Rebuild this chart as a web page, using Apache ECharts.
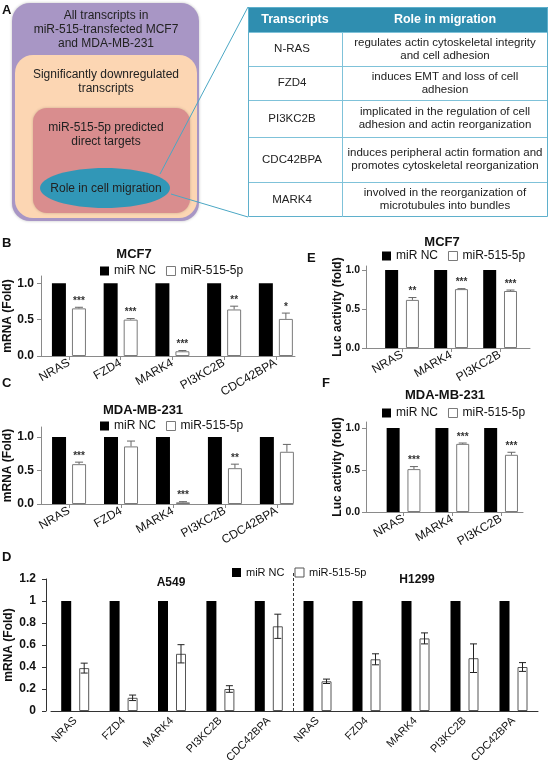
<!DOCTYPE html>
<html><head><meta charset="utf-8">
<script src="https://cdn.jsdelivr.net/npm/echarts@6/dist/echarts.min.js"></script>
<style>html,body{margin:0;padding:0;background:#fff}#c{width:549px;height:766px}</style>
</head><body><div id="c"></div>
<script>
// ---------- data ----------
const genesMrna = ['NRAS','FZD4','MARK4','PI3KC2B','CDC42BPA'];
const genesLuc = ['NRAS','MARK4','PI3KC2B'];
const legendNames = ['miR NC','miR-515-5p'];

const ctrlMcf7Mrna = [1,1,1,1,1];
const mcf7Mrna = [0.655,0.50,0.065,0.64,0.51];
const mcf7MrnaErr = [0.015,0.015,0.01,0.045,0.08];
const mcf7MrnaSig = ['***','***','***','**','*'];

const ctrlMdaMrna = [1,1,1,1,1];
const mdaMrna = [0.595,0.86,0.025,0.535,0.78];
const mdaMrnaErr = [0.03,0.08,0.01,0.06,0.11];
const mdaMrnaSig = ['***','','***','**',''];

const ctrlMcf7Luc = [1,1,1];
const mcf7Luc = [0.616,0.754,0.73];
const mcf7LucErr = [0.03,0.006,0.012];
const mcf7LucSig = ['**','***','***'];

const ctrlMdaLuc = [1,1,1];
const mdaLuc = [0.51,0.81,0.68];
const mdaLucErr = [0.03,0.01,0.03];
const mdaLucSig = ['***','***','***'];

const ctrlA549 = [1,1,1,1,1];
const a549 = [0.39,0.12,0.52,0.20,0.77];
const a549Err = [0.045,0.025,0.083,0.03,0.11];
const ctrlH1299 = [1,1,1,1,1];
const h1299 = [0.27,0.47,0.66,0.48,0.40];
const h1299Err = [0.02,0.05,0.05,0.13,0.04];

const yTicksFold = [0, 0.5, 1];
const yTicksD = [0, 0.2, 0.4, 0.6, 0.8, 1, 1.2];

const boxTexts = [
  'All transcripts in\nmiR-515-transfected MCF7\nand MDA-MB-231',
  'Significantly downregulated\ntranscripts',
  'miR-515-5p predicted\ndirect targets',
  'Role in cell migration'
];
const tableHead = ['Transcripts','Role in migration'];
const tableGenes = ['N-RAS','FZD4','PI3KC2B','CDC42BPA','MARK4'];
const tableRoles = [
  'regulates actin cytoskeletal integrity\nand cell adhesion',
  'induces EMT and loss of cell\nadhesion',
  'implicated in the regulation of cell\nadhesion and actin reorganization',
  'induces peripheral actin formation and\npromotes cytoskeletal reorganization',
  'involved in the reorganization of\nmicrotubules into bundles'
];

// ---------- helpers ----------
const FF = 'Liberation Sans, Arial, sans-serif';
const chart = echarts.init(document.getElementById('c'));

const grids = [], xAxes = [], yAxes = [], series = [], legends = [], titles = [];

function errSeries(idx, vals, errs, sigs, offset, both, color, cap) {
  return {
    type: 'custom', name: 'err' + idx, xAxisIndex: idx, yAxisIndex: idx, z: 5,
    silent: true,
    data: vals.map((v, i) => [i, v, errs[i]]),
    encode: { x: 0, y: 1 },
    renderItem: function (params, api) {
      const i = api.value(0), v = api.value(1), e = api.value(2);
      const pTop = api.coord([i, v + e]);
      const pBot = api.coord([i, both ? v - e : v]);
      const x = pTop[0] + offset;
      const st = { stroke: color, lineWidth: 1 };
      const ch = [
        { type: 'line', shape: { x1: x, y1: pTop[1], x2: x, y2: pBot[1] }, style: st },
        { type: 'line', shape: { x1: x - cap, y1: pTop[1], x2: x + cap, y2: pTop[1] }, style: st }
      ];
      if (both) ch.push({ type: 'line', shape: { x1: x - cap, y1: pBot[1], x2: x + cap, y2: pBot[1] }, style: st });
      const s = sigs ? sigs[params.dataIndex] : '';
      if (s) ch.push({ type: 'text', x: x, y: pTop[1] - 1,
        style: { text: s, fill: '#333', font: 'bold 10px ' + FF, align: 'center', verticalAlign: 'bottom' } });
      return { type: 'group', children: ch };
    }
  };
}

function smallPanel(cfg) {
  const idx = grids.length;
  grids.push(cfg.grid);
  const ticks = cfg.genes.map((g, i) => i);
  xAxes.push({
    gridIndex: idx, type: 'value', min: cfg.xmin, max: cfg.xmax,
    splitLine: { show: false },
    axisLine: { show: true, onZero: false, lineStyle: { color: '#8a8a8a' } },
    axisTick: { show: true, customValues: ticks, length: 4, lineStyle: { color: '#8a8a8a' } },
    axisLabel: { customValues: ticks, rotate: 30, margin: 6, fontSize: 12, color: '#111', fontFamily: FF,
      formatter: v => cfg.genes[Math.round(v)] }
  });
  yAxes.push({
    gridIndex: idx, type: 'value', min: 0, max: cfg.ymax,
    splitLine: { show: false },
    axisLine: { show: true, onZero: false, lineStyle: { color: '#8a8a8a' } },
    axisTick: { show: true, customValues: yTicksFold, length: 4, lineStyle: { color: '#8a8a8a' } },
    axisLabel: { customValues: yTicksFold, formatter: v => v.toFixed(1), fontWeight: 'bold', fontSize: cfg.labelSize, color: '#111', fontFamily: FF, margin: cfg.labelMargin },
    name: cfg.yname, nameLocation: 'middle', nameGap: cfg.nameGap, nameMoveOverlap: false,
    nameTextStyle: { fontWeight: 'bold', fontSize: 12, color: '#111', fontFamily: FF }
  });
  series.push({
    type: 'bar', name: legendNames[0], xAxisIndex: idx, yAxisIndex: idx,
    barWidth: cfg.barWidth, barGap: cfg.barGap,
    itemStyle: { color: '#000' },
    data: cfg.ctrl.map((v, i) => [i, v])
  });
  series.push({
    type: 'bar', name: legendNames[1], xAxisIndex: idx, yAxisIndex: idx,
    barWidth: cfg.barWidth, barGap: cfg.barGap,
    itemStyle: { color: '#fff', borderColor: '#7a7a7a', borderWidth: 1 },
    data: cfg.vals.map((v, i) => [i, v])
  });
  series.push(errSeries(idx, cfg.vals, cfg.errs, cfg.sigs, cfg.offset, false, '#666', 4));
  titles.push({ text: cfg.title, left: cfg.titleX, top: cfg.titleY, textAlign: 'center', padding: 0,
    textStyle: { fontSize: 13, fontWeight: 'bold', color: '#111', fontFamily: FF } });
  legends.push({ left: cfg.legend[0], top: cfg.legend[1], padding: 0, itemWidth: 9, itemHeight: 9, itemGap: 10,
    selectedMode: false, icon: 'rect',
    textStyle: { fontSize: 12, color: '#111', fontFamily: FF },
    data: [{ name: legendNames[0], itemStyle: { color: '#000' } },
           { name: legendNames[1], itemStyle: { color: '#fff', borderColor: '#7a7a7a', borderWidth: 1 } }] });
}

smallPanel({ grid: { left: 41, top: 276, width: 254, height: 80 }, genes: genesMrna,
  xmin: -0.54, xmax: 4.37, ymax: 1.1, yname: 'mRNA (Fold)', nameGap: 27, labelSize: 12, labelMargin: 7,
  ctrl: ctrlMcf7Mrna, vals: mcf7Mrna, errs: mcf7MrnaErr, sigs: mcf7MrnaSig,
  barWidth: 14, barGap: '43%', offset: 10, title: 'MCF7', titleX: 134, titleY: 248, legend: [100, 265] });
smallPanel({ grid: { left: 41, top: 427, width: 252, height: 77 }, genes: genesMrna,
  xmin: -0.54, xmax: 4.31, ymax: 1.15, yname: 'mRNA (Fold)', nameGap: 27, labelSize: 12, labelMargin: 7,
  ctrl: ctrlMdaMrna, vals: mdaMrna, errs: mdaMrnaErr, sigs: mdaMrnaSig,
  barWidth: 14, barGap: '43%', offset: 10, title: 'MDA-MB-231', titleX: 143, titleY: 404, legend: [100, 420] });
smallPanel({ grid: { left: 366, top: 266, width: 164, height: 82 }, genes: genesLuc,
  xmin: -0.735, xmax: 2.61, ymax: 1.05, yname: 'Luc activity (fold)', nameGap: 22, labelSize: 10.5, labelMargin: 6,
  ctrl: ctrlMcf7Luc, vals: mcf7Luc, errs: mcf7LucErr, sigs: mcf7LucSig,
  barWidth: 13, barGap: '60%', offset: 10.4, title: 'MCF7', titleX: 442, titleY: 236, legend: [382, 250] });
smallPanel({ grid: { left: 366, top: 422, width: 157, height: 90 }, genes: genesLuc,
  xmin: -0.77, xmax: 2.45, ymax: 1.07, yname: 'Luc activity (fold)', nameGap: 22, labelSize: 10.5, labelMargin: 6,
  ctrl: ctrlMdaLuc, vals: mdaLuc, errs: mdaLucErr, sigs: mdaLucSig,
  barWidth: 13, barGap: '60%', offset: 10.4, title: 'MDA-MB-231', titleX: 445, titleY: 389, legend: [382, 407] });

// ---------- panel D ----------
function dPanel(grid, vals, errs, ctrl, showY, title, tx, ty) {
  const idx = grids.length;
  grids.push(grid);
  xAxes.push({ gridIndex: idx, type: 'category', data: genesMrna,
    axisLine: { show: true, lineStyle: { color: '#333' } }, axisTick: { show: false },
    axisLabel: { rotate: 45, fontSize: 11, color: '#111', fontFamily: FF, margin: 8 } });
  yAxes.push({ gridIndex: idx, type: 'value', min: 0, max: 1.2, show: showY, offset: 5,
    splitLine: { show: false },
    axisLine: { show: true, lineStyle: { color: '#333' } },
    axisTick: { show: true, customValues: yTicksD, length: 4, lineStyle: { color: '#333' } },
    axisLabel: { customValues: yTicksD, fontWeight: 'bold', fontSize: 12, color: '#111', fontFamily: FF, margin: 10 },
    name: showY ? 'mRNA (Fold)' : '', nameLocation: 'middle', nameGap: 31, nameMoveOverlap: false,
    nameTextStyle: { fontWeight: 'bold', fontSize: 12, color: '#111', fontFamily: FF } });
  series.push({ type: 'bar', name: legendNames[0], xAxisIndex: idx, yAxisIndex: idx,
    barWidth: 10, barGap: '80%', itemStyle: { color: '#000' }, data: ctrl });
  series.push({ type: 'bar', name: legendNames[1], xAxisIndex: idx, yAxisIndex: idx,
    barWidth: 10, barGap: '80%', itemStyle: { color: '#fff', borderColor: '#555', borderWidth: 1 }, data: vals });
  series.push(errSeries(idx, vals, errs, null, 9, true, '#222', 3.5));
  titles.push({ text: title, left: tx, top: ty, textAlign: 'center', padding: 0,
    textStyle: { fontSize: 12, fontWeight: 'bold', color: '#111', fontFamily: FF } });
}
dPanel({ left: 51, top: 579, width: 242, height: 132 }, a549, a549Err, ctrlA549, true, 'A549', 171, 577);
dPanel({ left: 293, top: 579, width: 245, height: 132 }, h1299, h1299Err, ctrlH1299, false, 'H1299', 417, 574);
legends.push({ left: 232, top: 567, padding: 0, itemWidth: 9, itemHeight: 9, itemGap: 10, selectedMode: false, icon: 'rect',
  textStyle: { fontSize: 11, color: '#111', fontFamily: FF },
  data: [{ name: legendNames[0], itemStyle: { color: '#000' } },
         { name: legendNames[1], itemStyle: { color: '#fff', borderColor: '#555', borderWidth: 1 } }] });

// ---------- panel A + decorations ----------
const graphic = [];
const letter = (t, x, y) => graphic.push({ type: 'text', x: x, y: y,
  style: { text: t, font: 'bold 13px ' + FF, fill: '#111', verticalAlign: 'middle' } });
graphic.push({ type: 'rect', shape: { x: 12, y: 3, width: 187, height: 218, r: 18 }, style: { fill: '#a896c5', shadowBlur: 3, shadowColor: 'rgba(0,0,0,0.25)' } });
graphic.push({ type: 'rect', shape: { x: 15, y: 55, width: 182, height: 163, r: 18 }, style: { fill: '#fcd6b3' } });
graphic.push({ type: 'rect', shape: { x: 33, y: 108, width: 157, height: 105, r: 14 }, style: { fill: '#d98d8e', shadowBlur: 3, shadowColor: 'rgba(0,0,0,0.2)' } });
graphic.push({ type: 'ellipse', shape: { cx: 105, cy: 188, rx: 65, ry: 20 }, style: { fill: '#3197b7' } });
const boxY = [30, 82, 135, 189];
boxTexts.forEach((t, i) => graphic.push({ type: 'text', x: 106, y: boxY[i],
  style: { text: t, font: '12px ' + FF, fill: '#222', align: 'center', verticalAlign: 'middle', lineHeight: 14 } }));
// connector lines
graphic.push({ type: 'line', shape: { x1: 160, y1: 174, x2: 248, y2: 7 }, style: { stroke: '#4ba7c4', lineWidth: 1 } });
graphic.push({ type: 'line', shape: { x1: 171, y1: 194, x2: 248, y2: 217 }, style: { stroke: '#4ba7c4', lineWidth: 1 } });
// table
const tX0 = 248, tX1 = 548, tXm = 342;
const rowY = [7, 32, 66, 100, 137, 182, 217];
graphic.push({ type: 'rect', shape: { x: tX0, y: rowY[0], width: tX1 - tX0, height: rowY[1] - rowY[0] }, style: { fill: '#2f8eb0' } });
for (let r = 1; r < rowY.length - 1; r++) {
  graphic.push({ type: 'line', shape: { x1: tX0, y1: rowY[r] + 0.5, x2: tX1, y2: rowY[r] + 0.5 }, style: { stroke: '#7fc2d9', lineWidth: 1 } });
}
graphic.push({ type: 'rect', shape: { x: tX0 + 0.5, y: rowY[0] + 0.5, width: tX1 - tX0 - 1, height: rowY[6] - rowY[0] - 1 }, style: { fill: null, stroke: '#5fb0cc', lineWidth: 1 } });
graphic.push({ type: 'line', shape: { x1: tXm + 0.5, y1: rowY[1], x2: tXm + 0.5, y2: rowY[6] }, style: { stroke: '#7fc2d9', lineWidth: 1 } });
graphic.push({ type: 'text', x: (tX0 + tXm) / 2, y: (rowY[0] + rowY[1]) / 2,
  style: { text: tableHead[0], font: 'bold 12.5px ' + FF, fill: '#fff', align: 'center', verticalAlign: 'middle' } });
graphic.push({ type: 'text', x: (tXm + tX1) / 2, y: (rowY[0] + rowY[1]) / 2,
  style: { text: tableHead[1], font: 'bold 12.5px ' + FF, fill: '#fff', align: 'center', verticalAlign: 'middle' } });
tableGenes.forEach((g, i) => {
  const cy = (rowY[i + 1] + rowY[i + 2]) / 2;
  graphic.push({ type: 'text', x: (tX0 + tXm) / 2 - 3, y: cy,
    style: { text: g, font: '11.5px ' + FF, fill: '#222', align: 'center', verticalAlign: 'middle' } });
  graphic.push({ type: 'text', x: (tXm + tX1) / 2, y: cy,
    style: { text: tableRoles[i], font: '11.5px ' + FF, fill: '#222', align: 'center', verticalAlign: 'middle', lineHeight: 13 } });
});
// D divider
graphic.push({ type: 'line', shape: { x1: 293.5, y1: 573, x2: 293.5, y2: 711 }, style: { stroke: '#333', lineWidth: 1, lineDash: [3, 2] } });
letter('A', 2, 10); letter('B', 2, 243); letter('C', 2, 383); letter('D', 2, 557); letter('E', 307, 258); letter('F', 322, 383);

chart.setOption({
  animation: false,
  textStyle: { fontFamily: FF },
  title: titles, legend: legends, grid: grids, xAxis: xAxes, yAxis: yAxes, series: series, graphic: graphic
});
</script></body></html>
